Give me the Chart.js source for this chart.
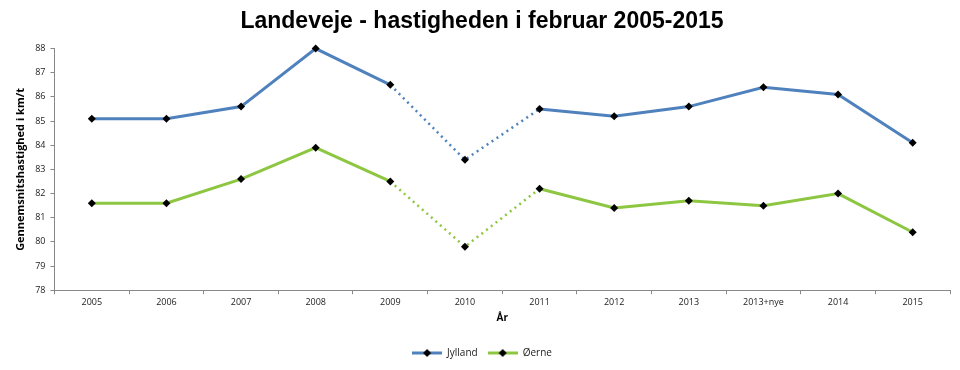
<!DOCTYPE html>
<html>
<head>
<meta charset="utf-8">
<script src="https://cdn.jsdelivr.net/npm/chart.js@4.4.1/dist/chart.umd.min.js"></script>
<style>
  html, body { margin: 0; padding: 0; background: #fff; }
  #wrap { width: 960px; height: 370px; position: relative; }
</style>
</head>
<body>
<div id="wrap"><canvas id="speedChart"></canvas></div>
<script>
// data
const years = ["2005", "2006", "2007", "2008", "2009", "2010", "2011", "2012", "2013", "2013+nye", "2014", "2015"];
const jylland = [85.1, 85.1, 85.6, 88.0, 86.5, 83.4, 85.5, 85.2, 85.6, 86.4, 86.1, 84.1];
const oerne = [81.6, 81.6, 82.6, 83.9, 82.5, 79.8, 82.2, 81.4, 81.7, 81.5, 82.0, 80.4];
const dottedFrom = [4, 5]; // segments starting at these indexes are dotted
const yTicks = [78, 79, 80, 81, 82, 83, 84, 85, 86, 87, 88];

const blue = "#4f81bd";
const green = "#8dc641";

function legendIcon(color) {
    const c = document.createElement('canvas');
    c.width = 30;
    c.height = 10;
    const g = c.getContext('2d');
    g.strokeStyle = color;
    g.lineWidth = 3;
    g.beginPath();
    g.moveTo(0, 5);
    g.lineTo(30, 5);
    g.stroke();
    g.fillStyle = "#000";
    g.beginPath();
    g.moveTo(15, 1);
    g.lineTo(19, 5);
    g.lineTo(15, 9);
    g.lineTo(11, 5);
    g.closePath();
    g.fill();
    return c;
}

function makeSet(label, data, color) {
    return {
        label: label,
        data: data,
        borderColor: color,
        backgroundColor: "#000",
        borderWidth: 3,
        tension: 0,
        clip: false,
        pointStyle: 'rectRot',
        pointRadius: 4,
        pointBackgroundColor: "#000",
        pointBorderColor: "#000",
        pointBorderWidth: 0,
        segment: {
            borderDash: ctx => dottedFrom.includes(ctx.p0DataIndex) ? [2, 4] : undefined,
            borderWidth: ctx => dottedFrom.includes(ctx.p0DataIndex) ? 2.5 : 3
        }
    };
}

const ctx = document.getElementById('speedChart').getContext('2d');

new Chart(ctx, {
    type: 'line',
    data: {
        labels: years,
        datasets: [
            makeSet("Jylland", jylland, blue),
            makeSet("Øerne", oerne, green)
        ]
    },
    options: {
        responsive: true,
        maintainAspectRatio: false,
        animation: false,
        layout: {
            padding: { left: 14, right: 10, top: 0, bottom: 2 }
        },
        plugins: {
            title: {
                display: true,
                text: "Landeveje - hastigheden i februar 2005-2015",
                color: "#000",
                font: { family: "Liberation Sans", size: 23, weight: 'bold' },
                padding: { top: 8, bottom: 13 }
            },
            legend: {
                position: 'bottom',
                labels: {
                    color: "#222",
                    font: { family: "Open Sans", size: 10 },
                    usePointStyle: true,
                    pointStyleWidth: 30,
                    boxHeight: 10,
                    padding: 10,
                    generateLabels: function (chart) {
                        return chart.data.datasets.map((ds, i) => ({
                            text: ds.label,
                            pointStyle: legendIcon(ds.borderColor),
                            datasetIndex: i,
                            fontColor: "#222",
                            hidden: false
                        }));
                    }
                }
            },
            tooltip: { enabled: false }
        },
        scales: {
            x: {
                offset: true,
                grid: {
                    offset: true,
                    drawOnChartArea: false,
                    tickLength: 4,
                    color: "#888"
                },
                border: { color: "#888" },
                ticks: {
                    color: "#222",
                    font: { family: "Open Sans", size: 9 },
                    maxRotation: 0,
                    padding: 3
                },
                title: {
                    display: true,
                    text: "År",
                    color: "#000",
                    font: { family: "Open Sans", size: 10, weight: 'bold' },
                    padding: { top: 1, bottom: 14 }
                }
            },
            y: {
                min: 78,
                max: 88,
                afterBuildTicks: function (axis) {
                    axis.ticks = yTicks.map(v => ({ value: v }));
                },
                grid: {
                    drawOnChartArea: false,
                    tickLength: 4,
                    color: "#888"
                },
                border: { color: "#888" },
                ticks: {
                    color: "#222",
                    font: { family: "Open Sans", size: 9 },
                    padding: 5
                },
                title: {
                    display: true,
                    text: "Gennemsnitshastighed i km/t",
                    color: "#000",
                    font: { family: "Open Sans", size: 11, weight: 'bold' },
                    padding: { top: 0, bottom: 3 }
                }
            }
        }
    }
});
</script>
</body>
</html>
